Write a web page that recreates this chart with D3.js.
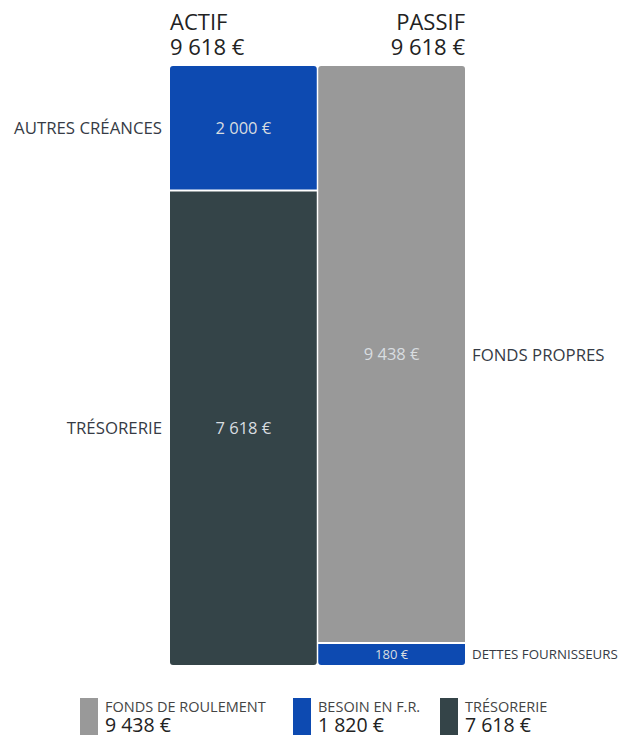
<!DOCTYPE html>
<head>
<meta charset="utf-8">
<title>Bilan fonctionnel</title>
<script src="https://d3js.org/d3.v7.min.js"></script>
<style>
body { margin: 0; background: #fff; }
text { font-family: "Open Sans", "Noto Sans", sans-serif; }
</style>
</head>
<body>
<div id="container"></div>
<script>
//---------------------------DATA-------------------------------//
const columns = ["ACTIF", "PASSIF"];
const actifLabels = ["AUTRES CRÉANCES", "TRÉSORERIE"];
const actifValues = [2000, 7618];
const passifLabels = ["FONDS PROPRES", "DETTES FOURNISSEURS"];
const passifValues = [9438, 180];
const legendLabels = ["FONDS DE ROULEMENT", "BESOIN EN F.R.", "TRÉSORERIE"];
const legendValues = [9438, 1820, 7618];

const BLUE = "#0d4ab1", DARK = "#344448", GREY = "#999999";
const actifColors = [BLUE, DARK];
const passifColors = [GREY, BLUE];
const legendColors = [GREY, BLUE, DARK];

const fmt = v => d3.format(",")(v).replace(/,/g, " ") + " €";

//---------------------------SVG--------------------------------//
const width = 619, height = 738;
const svg = d3.select("#container").append("svg")
    .attr("width", width)
    .attr("height", height);

const barTop = 66, barBottom = 665;
const x = d3.scaleBand().domain(columns).range([170, 465]).paddingInner(0.01);
const total = d3.sum(actifValues);
const y = d3.scaleLinear().domain([0, total]).range([barTop, barBottom]);
const minH = 22, gap = 2;

// stack segments, small ones get a minimum height
function stack(values) {
    let hs = values.map(v => y(v) - y(0));
    const extra = d3.sum(hs, h => h < minH ? minH - h : 0);
    const bigIdx = hs.indexOf(d3.max(hs));
    hs = hs.map((h, i) => h < minH ? minH : (i === bigIdx ? h - extra : h));
    let y0 = barTop;
    return hs.map((h, i) => {
        const s = { y0: y0, y1: y0 + h, v: values[i], i: i, n: values.length };
        y0 += h;
        return s;
    });
}

// rectangle path with rounded outer corners only
function seg(x0, x1, y0, y1, rTop, rBot) {
    const p = d3.path();
    p.moveTo(x0 + rTop, y0);
    p.lineTo(x1 - rTop, y0);
    p.arcTo(x1, y0, x1, y0 + rTop, rTop);
    p.lineTo(x1, y1 - rBot);
    p.arcTo(x1, y1, x1 - rBot, y1, rBot);
    p.lineTo(x0 + rBot, y1);
    p.arcTo(x0, y1, x0, y1 - rBot, rBot);
    p.lineTo(x0, y0 + rTop);
    p.arcTo(x0, y0, x0 + rTop, y0, rTop);
    p.closePath();
    return p.toString();
}

function drawColumn(name, values, labels, colors, side) {
    const segs = stack(values);
    const x0 = x(name), x1 = x(name) + x.bandwidth();
    const g = svg.append("g");
    g.selectAll("path").data(segs).join("path")
        .attr("d", d => seg(x0, x1,
            d.y0 + (d.i > 0 ? gap / 2 : 0),
            d.y1 - (d.i < d.n - 1 ? gap / 2 : 0),
            d.i === 0 ? 3 : 0, d.i === d.n - 1 ? 3 : 0))
        .attr("fill", (d, i) => colors[i]);
    g.selectAll("text.val").data(segs).join("text")
        .attr("class", "val")
        .attr("x", (x0 + x1) / 2)
        .attr("y", d => (d.y0 + d.y1) / 2)
        .attr("dy", "0.36em")
        .attr("text-anchor", "middle")
        .attr("fill", "#d8dde0")
        .style("font-size", d => (d.y1 - d.y0) < 30 ? "13px" : "16.5px")
        .text(d => fmt(d.v));
    g.selectAll("text.lab").data(segs).join("text")
        .attr("class", "lab")
        .attr("x", side === "left" ? x0 - 8 : x1 + 7)
        .attr("y", d => (d.y0 + d.y1) / 2)
        .attr("dy", "0.36em")
        .attr("text-anchor", side === "left" ? "end" : "start")
        .attr("fill", "#363b45")
        .style("font-size", d => (d.y1 - d.y0) < 30 ? "13.3px" : "16.8px")
        .text((d, i) => labels[i]);
    // header
    const hx = side === "left" ? x0 : x1;
    const anchor = side === "left" ? "start" : "end";
    svg.append("text").attr("x", hx).attr("y", 30)
        .attr("text-anchor", anchor).attr("fill", "#222")
        .style("font-size", "22px").text(name);
    svg.append("text").attr("x", hx).attr("y", 55)
        .attr("text-anchor", anchor).attr("fill", "#222")
        .style("font-size", "22px").text(fmt(d3.sum(values)));
}

drawColumn("ACTIF", actifValues, actifLabels, actifColors, "left");
drawColumn("PASSIF", passifValues, passifLabels, passifColors, "right");

//---------------------------LEGEND-----------------------------//
const legendX = [80, 293, 440];
const lg = svg.selectAll("g.legend").data(legendLabels).join("g")
    .attr("class", "legend")
    .attr("transform", (d, i) => "translate(" + legendX[i] + ",698)");
lg.append("rect").attr("width", 18).attr("height", 37)
    .attr("fill", (d, i) => legendColors[i]);
lg.append("text").attr("x", 25).attr("y", 14)
    .attr("fill", "#444").style("font-size", "14.5px")
    .text(d => d);
lg.append("text").attr("x", 25).attr("y", 34)
    .attr("fill", "#222").style("font-size", "19.5px")
    .text((d, i) => fmt(legendValues[i]));
</script>
</body>
